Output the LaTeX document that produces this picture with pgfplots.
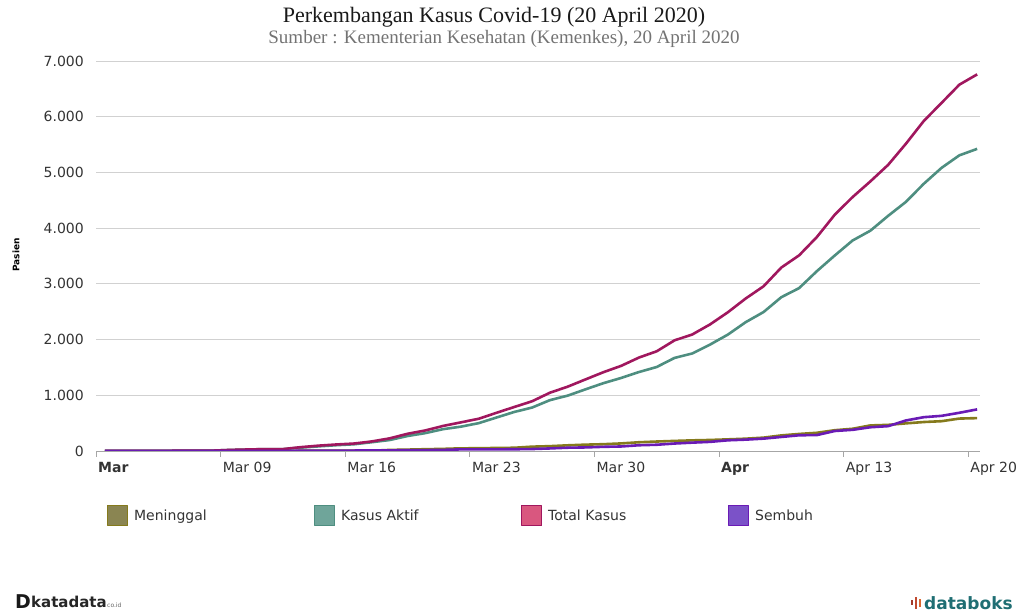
\documentclass[border=0pt]{standalone}
\usepackage{pgfplots}
\pgfplotsset{compat=1.18}
\usepackage{pgfplotstable}
\usepackage{fontspec}
\setmainfont{DejaVu Sans}
\newfontfamily\titlefont{Liberation Serif}
\definecolor{cmen}{HTML}{857A1C}
\definecolor{cmenf}{HTML}{8A8552}
\definecolor{cakt}{HTML}{4E8E80}
\definecolor{caktf}{HTML}{6FA59A}
\definecolor{ctot}{HTML}{A0175E}
\definecolor{ctotf}{HTML}{D9577F}
\definecolor{csem}{HTML}{6A1BB5}
\definecolor{csemf}{HTML}{7B52C8}
\definecolor{txt}{HTML}{333333}
\definecolor{logoa}{HTML}{A33A2A}
\definecolor{logob}{HTML}{C04A30}
\definecolor{logoc}{HTML}{D9662E}
\definecolor{dbteal}{HTML}{1F6E73}
\pgfplotstableread{
d total death rec active
0 2 0 0 2
1 2 0 0 2
2 2 0 0 2
3 2 0 0 2
4 4 0 0 4
5 4 0 0 4
6 6 0 0 6
7 19 0 0 19
8 27 0 0 27
9 34 1 0 33
10 34 1 0 33
11 69 4 5 60
12 96 5 8 83
13 117 5 8 104
14 134 5 8 121
15 172 5 9 158
16 227 19 11 197
17 309 25 15 269
18 369 32 16 321
19 450 38 20 392
20 514 48 29 437
21 579 49 30 500
22 686 55 30 601
23 790 58 31 701
24 893 78 35 780
25 1046 87 46 913
26 1155 102 59 994
27 1285 114 64 1107
28 1414 122 75 1217
29 1528 136 81 1311
30 1677 157 103 1417
31 1790 170 112 1508
32 1986 181 134 1671
33 2092 191 150 1751
34 2273 198 164 1911
35 2491 209 192 2090
36 2738 221 204 2313
37 2956 240 222 2494
38 3293 280 252 2761
39 3512 306 282 2924
40 3842 327 286 3229
41 4241 373 359 3509
42 4557 399 380 3778
43 4839 459 426 3954
44 5136 469 446 4221
45 5516 496 548 4472
46 5923 520 607 4796
47 6248 535 631 5082
48 6575 582 686 5307
49 6760 590 747 5423
}\covid
\begin{document}
\begin{tikzpicture}
\useasboundingbox (0pt,0pt) rectangle (1022pt,615pt);
\node[font=\titlefont\fontsize{22}{24}\selectfont, text=black!90] at (494pt,598pt) {Perkembangan Kasus Covid-19 (20 April 2020)};
\node[font=\titlefont\fontsize{19}{21}\selectfont, text=black!55] at (504pt,576pt) {Sumber : Kementerian Kesehatan (Kemenkes), 20 April 2020};
\node[font=\bfseries\fontsize{9}{10}\selectfont, rotate=90] at (16pt,360pt) {Pasien};
\begin{axis}[
  at={(96pt,164pt)}, anchor=south west,
  scale only axis, width=884pt, height=390pt,
  xmin=0, xmax=49.66, ymin=0, ymax=7000,
  axis x line*=bottom,
  axis y line*=left,
  x axis line style={draw=black!35, line width=0.8pt, -},
  y axis line style={draw=none},
  xtick={0,7,14,21,28,35,42,49},
  xticklabels={\textbf{Mar},Mar 09,Mar 16,Mar 23,Mar 30,\textbf{Apr},Apr 13,Apr 20},
  xtick align=outside,
  major tick length=6pt,
  xtick style={draw=black!35, line width=0.8pt},
  ytick={0,1000,2000,3000,4000,5000,6000,7000},
  yticklabels={0,1.000,2.000,3.000,4.000,5.000,6.000,7.000},
  ytick style={draw=none},
  ymajorgrids,
  grid style={draw=black!18, line width=0.8pt},
  tick label style={font=\fontsize{14}{16}\selectfont, text=txt},
  xticklabel style={anchor=north west, inner sep=0pt, xshift=2pt, yshift=-5pt},
  yticklabel style={anchor=east, inner sep=0pt, xshift=-12pt},
  legend columns=4,
  legend cell align=left,
  legend style={at={(axis description cs:0.0124,-0.138)}, anchor=north west,
    draw=none, fill=none, inner sep=0pt, column sep=0pt,
    font=\fontsize{14}{16}\selectfont, text=txt,
    nodes={inner sep=0pt}},
  every axis plot/.append style={line width=2.6pt, line join=round},
]
\addplot[color=cmen, legend image code/.code={\draw[fill=cmenf, draw=cmen, line width=1pt] (0pt,-10pt) rectangle (20pt,10pt);}] table[x expr=\thisrow{d}+0.5, y=death] {\covid};
\addlegendentry{\makebox[186pt][l]{\hspace{6pt}Meninggal}}
\addplot[color=cakt, legend image code/.code={\draw[fill=caktf, draw=cakt, line width=1pt] (0pt,-10pt) rectangle (20pt,10pt);}] table[x expr=\thisrow{d}+0.5, y=active] {\covid};
\addlegendentry{\makebox[186pt][l]{\hspace{6pt}Kasus Aktif}}
\addplot[color=ctot, legend image code/.code={\draw[fill=ctotf, draw=ctot, line width=1pt] (0pt,-10pt) rectangle (20pt,10pt);}] table[x expr=\thisrow{d}+0.5, y=total] {\covid};
\addlegendentry{\makebox[186pt][l]{\hspace{6pt}Total Kasus}}
\addplot[color=csem, legend image code/.code={\draw[fill=csemf, draw=csem, line width=1pt] (0pt,-10pt) rectangle (20pt,10pt);}] table[x expr=\thisrow{d}+0.5, y=rec] {\covid};
\addlegendentry{\makebox[100pt][l]{\hspace{6pt}Sembuh}}
\end{axis}
\node[anchor=west, font=\bfseries\fontsize{19}{20}\selectfont, text=black!90, inner sep=0pt] at (15pt,13pt) {D};
\node[anchor=west, font=\bfseries\fontsize{15}{17}\selectfont, text=black!85, inner sep=0pt] at (31pt,13pt) {katadata};
\node[anchor=west, font=\fontsize{6}{7}\selectfont, text=black!60, inner sep=0pt] at (107pt,10pt) {co.id};
\fill[logoa] (911pt,10pt) rectangle (913pt,15pt);
\fill[logob] (915pt,6pt) rectangle (917pt,18pt);
\fill[logoc] (919pt,8pt) rectangle (921pt,16pt);
\node[anchor=west, font=\bfseries\fontsize{17}{18}\selectfont, text=dbteal, inner sep=0pt] at (924pt,12pt) {databoks};
\end{tikzpicture}
\end{document}
